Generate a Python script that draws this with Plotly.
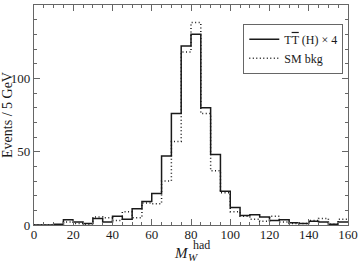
import plotly.graph_objects as go

bin_edges = list(range(0, 165, 5))
signal = [0, 0, 0.5, 3.5, 2, 1, 4.5, 2, 6, 4, 11, 16, 21.5, 47, 76, 122,
          130, 80, 48, 23, 12, 6.5, 7, 5.5, 3, 3.5, 1.5, 1, 2.5, 2, 0.5, 2]
bkg = [0, 0, 0, 2, 1, 0.5, 5.5, 5, 3, 9, 5, 15, 14.5, 30, 57, 118,
       138, 76, 37, 22, 9, 6, 4, 2.5, 6, 2, 1, 1, 3, 4.5, 0.5, 4]
x_ticks = [0, 20, 40, 60, 80, 100, 120, 140, 160]
y_ticks = [0, 50, 100, 150]

FONT = "Liberation Serif"
INK = "#1a1a1a"
AX = "#666666"

fig = go.Figure()
fig.add_trace(go.Scatter(
    x=bin_edges, y=signal + [signal[-1]], mode="lines", line_shape="hv",
    line=dict(color=INK, width=1.5),
    name="T<span style='text-decoration:overline'>T</span> (H) × 4"))
fig.add_trace(go.Scatter(
    x=bin_edges, y=bkg + [bkg[-1]], mode="lines", line_shape="hv",
    line=dict(color=INK, width=1.5, dash="1px,2.5px"),
    name="SM bkg"))

axis_common = dict(showline=True, linecolor=AX, linewidth=1.2, mirror="allticks",
                   ticks="inside", tickcolor=AX, showgrid=False, zeroline=False,
                   tickfont=dict(family=FONT, size=13, color=INK))
fig.update_xaxes(range=[0, 160], tickvals=x_ticks, ticklen=6, ticklabelstandoff=-3,
                 minor=dict(dtick=5, ticks="inside", ticklen=3, tickcolor=AX),
                 **axis_common)
fig.update_yaxes(range=[0, 150], tickvals=y_ticks, ticklen=6,
                 minor=dict(dtick=10, ticks="inside", ticklen=3, tickcolor=AX),
                 title=dict(text="Events / 5 GeV",
                            font=dict(family=FONT, size=14, color=INK), standoff=3),
                 **axis_common)

# x-axis title: M with stacked sub/superscript
fig.add_annotation(xref="paper", yref="paper", x=0.471, y=-0.127, xanchor="center", yanchor="middle",
                   text="<i>M</i>", showarrow=False, font=dict(family=FONT, size=15, color=INK))
fig.add_annotation(xref="paper", yref="paper", x=0.505, y=-0.145, xanchor="center", yanchor="middle",
                   text="<i>W</i>", showarrow=False, font=dict(family=FONT, size=11, color=INK))
fig.add_annotation(xref="paper", yref="paper", x=0.532, y=-0.09, xanchor="center", yanchor="middle",
                   text="had", showarrow=False, font=dict(family=FONT, size=12, color=INK))

fig.update_layout(
    width=359, height=262,
    margin=dict(l=34, r=11, t=5, b=37, autoexpand=False),
    paper_bgcolor="white", plot_bgcolor="white",
    font=dict(family=FONT, size=12, color=INK),
    legend=dict(x=0.985, y=0.915, xanchor="right", yanchor="top",
                bordercolor=AX, borderwidth=1, bgcolor="white",
                font=dict(family=FONT, size=12, color=INK),
                itemwidth=30, tracegroupgap=0),
    showlegend=True,
)
fig.write_html("out.html", config={"displayModeBar": False},
               post_script="document.body.style.margin='0';")
